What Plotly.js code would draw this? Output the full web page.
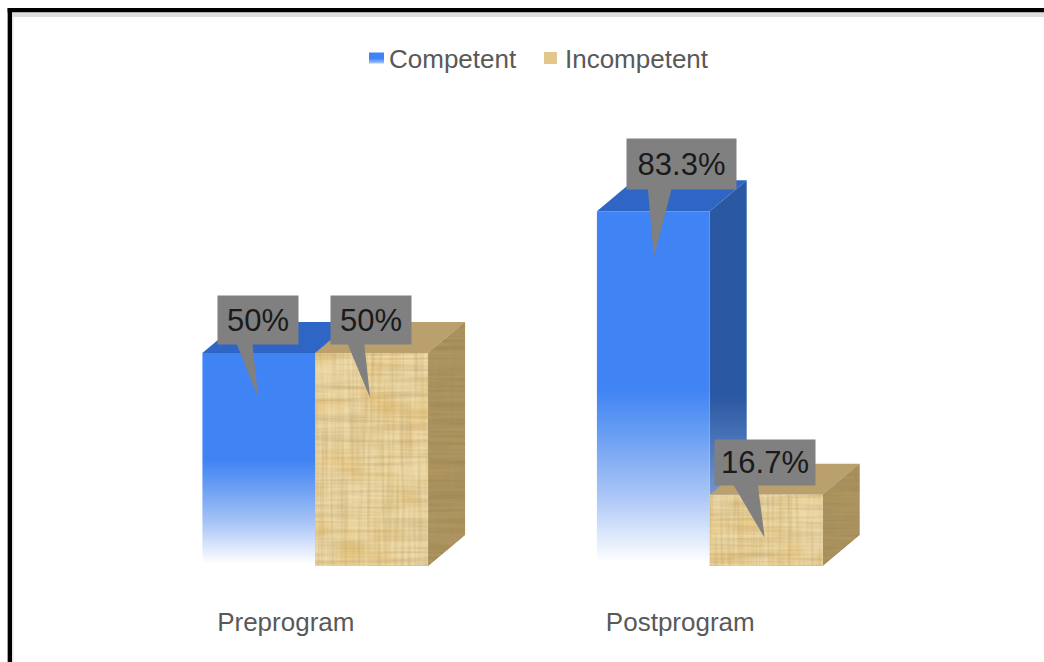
<!DOCTYPE html>
<html>
<head>
<meta charset="utf-8">
<script src="https://cdn.plot.ly/plotly-3.0.1.min.js"></script>
<style>html,body{margin:0;padding:0;background:#fff;overflow:hidden}#chart{width:1044px;height:662px}</style>
</head>
<body>
<div id="chart"></div>
<script>
const categories = ['Preprogram', 'Postprogram'];
const competent = [50, 83.3];
const incompetent = [50, 16.7];

const W = 1044, H = 662;
const plotL = 117.5, plotR = 907.5, plotT = 140, plotB = 566;
const pxX = 1 / ((plotR - plotL) / 2);   // category units per pixel
const pxY = 100 / (plotB - plotT);       // value units per pixel
const depthX = 37 * pxX, depthY = 31 * pxY;
const barW = 113 * pxX;
const labelOffset = -29.5 * pxX;
const positions = categories.map((c, i) => i);

const colors = {
  blueFront: '#3F83F4', blueTop: '#2F66C6', blueSide: '#2B58A2',
  tanFront: '#EFDBAA', tanTop: '#B9A06D', tanSide: '#AC9563', callout: '#808080'
};

function top3d(x0, x1, v) {
  return `M${x0},${v} L${x0 + depthX},${v + depthY} L${x1 + depthX},${v + depthY} L${x1},${v} Z`;
}
function side3d(x1, v) {
  return `M${x1},${v} L${x1 + depthX},${v + depthY} L${x1 + depthX},${depthY} L${x1},0 Z`;
}
function pathShape(path, fill, layer) {
  return {type: 'path', xref: 'x', yref: 'y', path: path, fillcolor: fill, line: {width: 0}, layer: layer || 'below'};
}
function paperRect(x0, y0, x1, y1, fill) {
  return {type: 'rect', xref: 'paper', yref: 'paper', layer: 'below',
    x0: (x0 - plotL) / (plotR - plotL), x1: (x1 - plotL) / (plotR - plotL),
    y0: (plotB - y0) / (plotB - plotT), y1: (plotB - y1) / (plotB - plotT),
    fillcolor: fill, line: {width: 0}};
}

const shapes = [
  paperRect(7, 8, W + 2, 12.5, '#000000'),
  paperRect(7, 8, 11.5, H + 2, '#000000'),
  paperRect(11.5, 12.5, W + 2, 17, '#DEDEDE'),
  paperRect(11.5, 17, 13, H + 2, '#E8E8E8')
];
const blueSideIdx = [], tanSideIdx = [];
positions.forEach(i => {
  shapes.push(pathShape(top3d(i - barW, i, competent[i]), colors.blueTop));
  shapes.push(pathShape(side3d(i, competent[i]), colors.blueSide));
  blueSideIdx.push(shapes.length - 1);
});
positions.forEach(i => {
  shapes.push(pathShape(top3d(i, i + barW, incompetent[i]), colors.tanTop));
  shapes.push(pathShape(side3d(i + barW, incompetent[i]), colors.tanSide));
  tanSideIdx.push(shapes.length - 1);
});

// callouts: box and pointer placed relative to the bar's value
const callouts = [
  {cat: 0, v: competent[0],   dx: -57, boxW: 80,  boxH: 48, up: 9,  base0: -79, base1: -63, tipX: -57, tipY: -45},
  {cat: 0, v: incompetent[0], dx: 56,  boxW: 80,  boxH: 48, up: 9,  base0: 32,  base1: 49,  tipX: 55,  tipY: -45},
  {cat: 1, v: competent[1],   dx: -28, boxW: 109, boxH: 50, up: 22, base0: -62, base1: -38, tipX: -56, tipY: -46},
  {cat: 1, v: incompetent[1], dx: 55,  boxW: 100, boxH: 45, up: 10, base0: 23,  base1: 48,  tipX: 55,  tipY: -43}
];
const annotations = callouts.map(c => {
  return {
    xref: 'x', yref: 'y', x: c.cat, y: c.v, xshift: c.dx, yshift: c.up + c.boxH / 2,
    text: c.v + '%', showarrow: false, width: c.boxW, height: c.boxH, bgcolor: colors.callout,
    borderpad: 0, align: 'center', valign: 'middle',
    font: {family: 'Liberation Sans, Arial, sans-serif', size: 31, color: '#1A1A1A'}
  };
});
callouts.forEach(c => {
  const yb = c.v + (c.up + 1) * pxY;
  shapes.push(pathShape(
    `M${c.cat + c.base0 * pxX},${yb} L${c.cat + c.base1 * pxX},${yb} L${c.cat + c.tipX * pxX},${c.v + c.tipY * pxY} Z`,
    colors.callout, 'above'));
});

const traces = [
  {type: 'bar', name: 'Competent', x: positions, y: competent, marker: {color: colors.blueFront, line: {width: 0}}},
  {type: 'bar', name: 'Incompetent', x: positions, y: incompetent, marker: {color: colors.tanFront, line: {width: 0}}}
];

const layout = {
  width: W, height: H, paper_bgcolor: 'rgba(0,0,0,0)', plot_bgcolor: 'rgba(0,0,0,0)',
  margin: {l: plotL, r: W - plotR, t: plotT, b: H - plotB, pad: 0, autoexpand: false},
  barmode: 'group', bargap: 0.428, bargroupgap: 0, hovermode: false,
  font: {family: 'Liberation Sans, Arial, sans-serif', color: '#595959'},
  showlegend: true,
  legend: {orientation: 'h', x: 0.5, xanchor: 'center', y: 1.1925, yanchor: 'middle',
    font: {size: 26, color: '#595959'}, bgcolor: 'rgba(0,0,0,0)', traceorder: 'normal',
    itemwidth: 30, itemclick: false, itemdoubleclick: false},
  xaxis: {type: 'linear', range: [-0.5, 1.5], tickmode: 'array',
    tickvals: positions.map(p => p + labelOffset), ticktext: categories,
    showgrid: false, zeroline: false, showline: false, ticks: '', ticklabelstandoff: 38,
    tickfont: {size: 26, color: '#595959'}, fixedrange: true},
  yaxis: {range: [0, 100], visible: false, fixedrange: true},
  shapes: shapes, annotations: annotations
};

function noiseFilter(id, hA, vA, bA) {
  return `<filter id="${id}" x="0" y="0" width="1" height="1" color-interpolation-filters="sRGB">
      <feTurbulence type="fractalNoise" baseFrequency="0.012 0.3" numOctaves="2" seed="3" result="h"/>
      <feColorMatrix in="h" type="matrix" values="0 0 0 0 0.55  0 0 0 0 0.43  0 0 0 0 0.2  ${hA} 0 0 0 ${-hA * 0.35}" result="hc"/>
      <feTurbulence type="fractalNoise" baseFrequency="0.3 0.012" numOctaves="2" seed="8" result="v"/>
      <feColorMatrix in="v" type="matrix" values="0 0 0 0 0.55  0 0 0 0 0.43  0 0 0 0 0.2  ${vA} 0 0 0 ${-vA * 0.35}" result="vc"/>
      <feTurbulence type="fractalNoise" baseFrequency="0.025 0.035" numOctaves="2" seed="5" result="b"/>
      <feColorMatrix in="b" type="matrix" values="0 0 0 0 0.9  0 0 0 0 0.68  0 0 0 0 0.25  0 ${bA} 0 0 ${-bA * 0.42}" result="bc"/>
      <feMerge result="m"><feMergeNode in="SourceGraphic"/><feMergeNode in="bc"/><feMergeNode in="hc"/><feMergeNode in="vc"/></feMerge>
      <feGaussianBlur in="m" stdDeviation="0.5" result="s"/>
      <feComposite in="s" in2="SourceAlpha" operator="in" result="c"/>
      <feMerge><feMergeNode in="SourceGraphic"/><feMergeNode in="c"/></feMerge>
    </filter>`;
}

function makeDefs(gd) {
  const svg = gd.querySelector('.main-svg');
  const NS = 'http://www.w3.org/2000/svg';
  const defs = svg.querySelector('defs');
  const holder = document.createElementNS(NS, 'g');
  holder.innerHTML = `
    <linearGradient id="blueFade" x1="0" y1="0" x2="0" y2="1">
      <stop offset="0" stop-color="#3F83F4"/><stop offset="0.5" stop-color="#3F83F4"/>
      <stop offset="0.62" stop-color="#669CF3"/><stop offset="0.8" stop-color="#A9C5F6"/><stop offset="0.99" stop-color="#FFFFFF"/>
    </linearGradient>
    <linearGradient id="blueSideFade" x1="0" y1="0" x2="0" y2="1">
      <stop offset="0" stop-color="#2B58A2"/><stop offset="0.56" stop-color="#2B58A2"/>
      <stop offset="0.68" stop-color="#4A75BA"/><stop offset="1" stop-color="#A9C4EE"/>
    </linearGradient>
    <linearGradient id="legendBlue" x1="0" y1="0" x2="0" y2="1">
      <stop offset="0" stop-color="#3F83F4"/><stop offset="0.55" stop-color="#3F83F4"/><stop offset="1" stop-color="#A9C6F6"/>
    </linearGradient>
    ${noiseFilter('woodFront', 0.45, 0.4, 0.8)}
    ${noiseFilter('woodSide', 0.6, 0.12, 0.2)}`;
  while (holder.firstChild) defs.appendChild(holder.firstChild);
}

function shiftX(el, dx) {
  el.setAttribute('transform', el.getAttribute('transform').replace(/translate\(\s*([-\d.]+)/, (m, x) => 'translate(' + (parseFloat(x) + dx)));
}

const gd = document.getElementById('chart');
Plotly.newPlot(gd, traces, layout, {staticPlot: true, displayModeBar: false, responsive: false}).then(() => {
  makeDefs(gd);
  const barTraces = gd.querySelectorAll('.barlayer .trace');
  barTraces[0].querySelectorAll('.point path').forEach(p => { p.style.fill = 'url(#blueFade)'; });
  barTraces[1].querySelectorAll('.point path').forEach(p => { p.setAttribute('filter', 'url(#woodFront)'); });
  blueSideIdx.forEach(i => {
    const p = gd.querySelector('.shapelayer path[data-index="' + i + '"]');
    if (p) p.style.fill = 'url(#blueSideFade)';
  });
  tanSideIdx.forEach(i => {
    const p = gd.querySelector('.shapelayer path[data-index="' + i + '"]');
    if (p) p.setAttribute('filter', 'url(#woodSide)');
  });
  // legend: small swatches sitting close to their text, as in the reference
  const lg = gd.querySelectorAll('.legend .traces');
  const swatches = [['url(#legendBlue)', 'M7.5,5.5H-7.5V-5.5H7.5Z', 7.5], ['#E4C68C', 'M6.5,6H-6.5V-6H6.5Z', 5.5]];
  lg.forEach((t, k) => {
    t.querySelectorAll('.legendpoints path').forEach(p => {
      p.style.fill = swatches[k][0];
      p.setAttribute('d', swatches[k][1]);
    });
    const pts = t.querySelector('.legendpoints');
    if (pts) pts.setAttribute('transform', 'translate(' + swatches[k][2] + ',0)');
  });
  if (lg[1]) shiftX(lg[1], 3);
  shiftX(gd.querySelector('.legend'), 17.5);
});
</script>
</body>
</html>
